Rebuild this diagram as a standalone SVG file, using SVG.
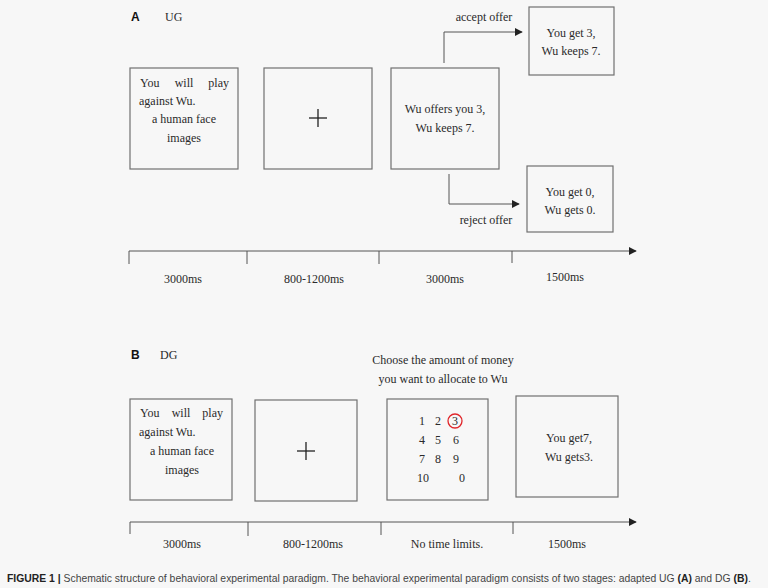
<svg xmlns="http://www.w3.org/2000/svg" width="768" height="588" viewBox="0 0 768 588">
<defs>
<style>
.t{font-family:"Liberation Serif","Times New Roman",serif;font-size:12px;fill:#2a2a2a}
.c{text-anchor:middle}
.e{text-anchor:end}
.lbl{font-family:"Liberation Sans",Arial,sans-serif;font-weight:bold;font-size:12px;fill:#111}
.box{fill:none;stroke:#707070;stroke-width:1.2}
.ln{fill:none;stroke:#555;stroke-width:1}
.cross{stroke:#222;stroke-width:1.3}
.cap{font-family:"Liberation Sans",Arial,sans-serif;font-size:11px;fill:#444}
.b{font-weight:bold;fill:#222}
</style>
<marker id="ah" viewBox="0 0 10 10" refX="9" refY="5" markerWidth="8" markerHeight="8" markerUnits="userSpaceOnUse" orient="auto">
<path d="M0,0 L10,5 L0,10 z" fill="#222"/>
</marker>
</defs>
<rect width="768" height="588" fill="#f7f7f7"/>

<!-- Panel A -->
<text class="lbl" x="131" y="21">A</text>
<text class="t" x="165" y="21">UG</text>

<g id="a-intro">
<rect class="box" x="130" y="68" width="108" height="101"/>
<text class="t" x="140" y="87">You</text>
<text class="t c" x="184" y="87">will</text>
<text class="t e" x="229" y="87">play</text>
<text class="t" x="139" y="105">against Wu.</text>
<text class="t c" x="184" y="123">a human face</text>
<text class="t c" x="184" y="142">images</text>
</g>
<g id="a-fix">
<rect class="box" x="264" y="68" width="108" height="101"/>
<line class="cross" x1="309" y1="118" x2="327" y2="118"/>
<line class="cross" x1="318" y1="109" x2="318" y2="127"/>
</g>
<g id="a-offer">
<rect class="box" x="391" y="68" width="108" height="101"/>
<text class="t c" x="445" y="113">Wu offers you 3,</text>
<text class="t c" x="445" y="132">Wu keeps 7.</text>
</g>
<g id="a-accept">
<rect class="box" x="529" y="7" width="85" height="68"/>
<text class="t c" x="571" y="37">You get 3,</text>
<text class="t c" x="571" y="55">Wu keeps 7.</text>
</g>
<g id="a-reject">
<rect class="box" x="527" y="166" width="86" height="66"/>
<text class="t c" x="570" y="196">You get 0,</text>
<text class="t c" x="570" y="214">Wu gets 0.</text>
</g>

<g id="connectors">
<polyline class="ln" points="444,63 444,32 522,32" marker-end="url(#ah)"/>
<text class="t c" x="484" y="21">accept offer</text>
<polyline class="ln" points="449,174 449,204 519,204" marker-end="url(#ah)"/>
<text class="t c" x="486" y="224">reject offer</text>

<!-- timeline A -->
<line class="ln" x1="129" y1="251" x2="636" y2="251" marker-end="url(#ah)"/>
<line class="ln" x1="129" y1="251" x2="129" y2="264"/>
<line class="ln" x1="247" y1="251" x2="247" y2="264"/>
<line class="ln" x1="379" y1="251" x2="379" y2="264"/>
<line class="ln" x1="512" y1="251" x2="512" y2="263"/>

<!-- timeline B -->
<line class="ln" x1="130" y1="522" x2="636" y2="522" marker-end="url(#ah)"/>
<line class="ln" x1="130" y1="522" x2="130" y2="534"/>
<line class="ln" x1="248" y1="522" x2="248" y2="536"/>
<line class="ln" x1="381" y1="522" x2="381" y2="535"/>
<line class="ln" x1="513" y1="522" x2="513" y2="534"/>
</g>

<text class="t c" x="183" y="283">3000ms</text>
<text class="t c" x="314" y="283">800-1200ms</text>
<text class="t c" x="445" y="283">3000ms</text>
<text class="t c" x="565" y="281">1500ms</text>

<!-- Panel B -->
<text class="lbl" x="131" y="359">B</text>
<text class="t" x="160" y="359">DG</text>
<text class="t c" x="443" y="364">Choose the amount of money</text>
<text class="t c" x="443" y="383">you want to allocate to Wu</text>

<g id="b-intro">
<rect class="box" x="130" y="399" width="102" height="101"/>
<text class="t" x="140" y="417">You</text>
<text class="t c" x="181" y="417">will</text>
<text class="t e" x="223" y="417">play</text>
<text class="t" x="139" y="436">against Wu.</text>
<text class="t c" x="182" y="455">a human face</text>
<text class="t c" x="182" y="474">images</text>
</g>
<g id="b-fix">
<rect class="box" x="255" y="400" width="102" height="101"/>
<line class="cross" x1="297" y1="451" x2="315" y2="451"/>
<line class="cross" x1="306" y1="442" x2="306" y2="460"/>
</g>
<g id="b-choose">
<rect class="box" x="387" y="399" width="101" height="101"/>
<text class="t c" x="422" y="425">1</text>
<text class="t c" x="438" y="425">2</text>
<text class="t c" x="455" y="425">3</text>
<circle cx="455" cy="421" r="7" fill="none" stroke="#e0262b" stroke-width="1.3"/>
<text class="t c" x="422" y="444">4</text>
<text class="t c" x="438" y="444">5</text>
<text class="t c" x="456" y="444">6</text>
<text class="t c" x="422" y="463">7</text>
<text class="t c" x="438" y="463">8</text>
<text class="t c" x="456" y="463">9</text>
<text class="t c" x="423" y="482">10</text>
<text class="t c" x="462" y="482">0</text>
</g>
<g id="b-result">
<rect class="box" x="516" y="396" width="102" height="101"/>
<text class="t c" x="569" y="442">You get7,</text>
<text class="t c" x="569" y="461">Wu gets3.</text>
</g>

<text class="t c" x="182" y="548">3000ms</text>
<text class="t c" x="313" y="548">800-1200ms</text>
<text class="t c" x="447" y="548">No time limits.</text>
<text class="t c" x="567" y="548">1500ms</text>

<text class="cap" transform="translate(7,582) scale(0.944,1)" x="0" y="0"><tspan class="b">FIGURE 1 |</tspan> Schematic structure of behavioral experimental paradigm. The behavioral experimental paradigm consists of two stages: adapted UG <tspan class="b">(A)</tspan> and DG <tspan class="b">(B)</tspan>.</text>
</svg>
